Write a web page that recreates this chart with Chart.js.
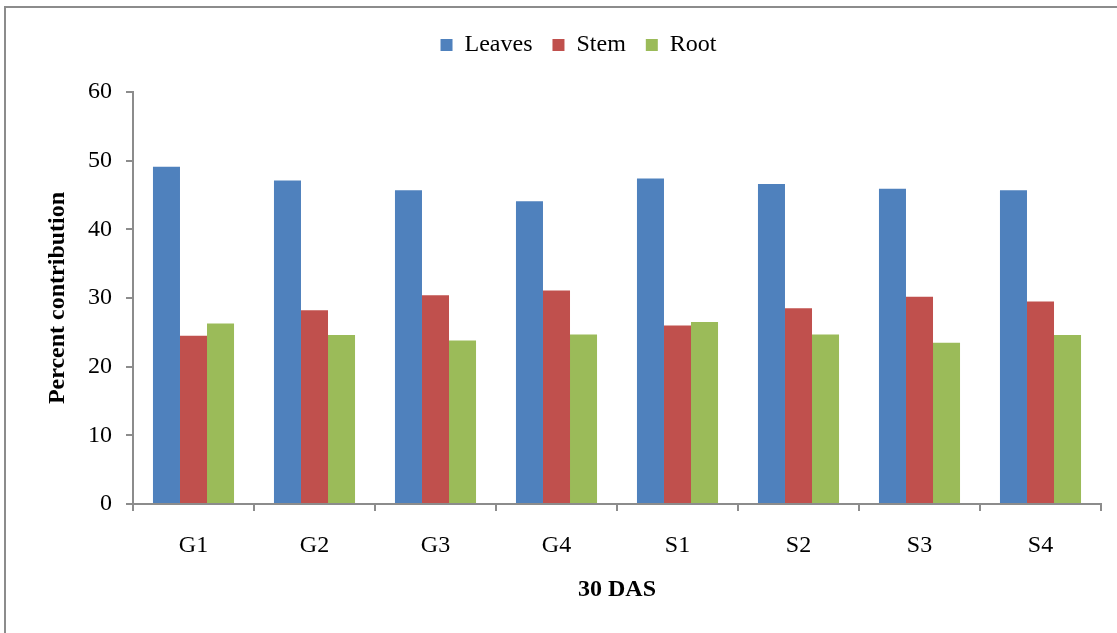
<!DOCTYPE html>
<html>
<head>
<meta charset="utf-8">
<script src="https://cdn.jsdelivr.net/npm/chart.js@4"></script>
<style>
  html, body { margin: 0; padding: 0; background: #fff; }
  #frame { position: absolute; left: 4px; top: 6px; width: 1200px; height: 700px;
           border: 2px solid #8c8c8c; box-sizing: border-box; }
  #wrap { position: absolute; left: 0; top: 0; width: 1117px; height: 633px; }
</style>
</head>
<body>
<div id="frame"></div>
<div id="wrap"><canvas id="c"></canvas></div>
<script>
const categories = ['G1', 'G2', 'G3', 'G4', 'S1', 'S2', 'S3', 'S4'];
const leaves = [49.1, 47.1, 45.7, 44.1, 47.4, 46.6, 45.9, 45.7];
const stem   = [24.5, 28.2, 30.4, 31.1, 26.0, 28.5, 30.2, 29.5];
const root   = [26.3, 24.6, 23.8, 24.7, 26.5, 24.7, 23.5, 24.6];
const yTicks = [0, 10, 20, 30, 40, 50, 60];

const FONT = '"Liberation Serif", "Times New Roman", serif';
const axisGrey = '#8c8c8c';

// extra room under the legend, and nudge it right, like the original
const legendGap = {
  id: 'legendGap',
  beforeInit(chart) {
    const fit = chart.legend.fit;
    chart.legend.fit = function() {
      fit.call(this);
      this.height += 25;
    };
  },
  afterLayout(chart) {
    chart.legend.left += 28;
    chart.legend.right += 28;
  },
};

new Chart(document.getElementById('c'), {
  type: 'bar',
  data: {
    labels: categories,
    datasets: [
      { label: 'Leaves', data: leaves, backgroundColor: '#4F81BD' },
      { label: 'Stem',   data: stem,   backgroundColor: '#C0504D' },
      { label: 'Root',   data: root,   backgroundColor: '#9BBB59' },
    ],
  },
  plugins: [legendGap],
  options: {
    responsive: true,
    maintainAspectRatio: false,
    animation: false,
    datasets: { bar: { categoryPercentage: 0.67, barPercentage: 1.0 } },
    layout: { padding: { left: 0, right: 16, top: 13, bottom: 0 } },
    plugins: {
      legend: {
        position: 'top',
        labels: { font: { family: FONT, size: 24 }, color: '#000', boxWidth: 12, boxHeight: 12, padding: 20 },
      },
      tooltip: { enabled: false },
    },
    scales: {
      y: {
        min: 0, max: 60,
        afterBuildTicks: s => { s.ticks = yTicks.map(v => ({ value: v })); },
        afterFit: s => { s.width = 133; },
        grid: { drawOnChartArea: false, drawTicks: true, tickLength: 7, color: axisGrey, lineWidth: 2 },
        border: { color: axisGrey, width: 2 },
        ticks: { font: { family: FONT, size: 24 }, color: '#000', padding: 14 },
        title: { display: true, text: 'Percent contribution', font: { family: FONT, size: 24, weight: 'bold' }, color: '#000', padding: { top: 43, bottom: 0 } },
      },
      x: {
        afterFit: s => { s.height = 129; },
        grid: { drawOnChartArea: false, drawTicks: true, tickLength: 7, color: axisGrey, lineWidth: 2, offset: true },
        border: { color: axisGrey, width: 2 },
        ticks: { font: { family: FONT, size: 24 }, color: '#000', padding: 20 },
        title: { display: true, text: '30 DAS', font: { family: FONT, size: 24, weight: 'bold' }, color: '#000', padding: { top: 0, bottom: 29 } },
      },
    },
  },
});
</script>
</body>
</html>
